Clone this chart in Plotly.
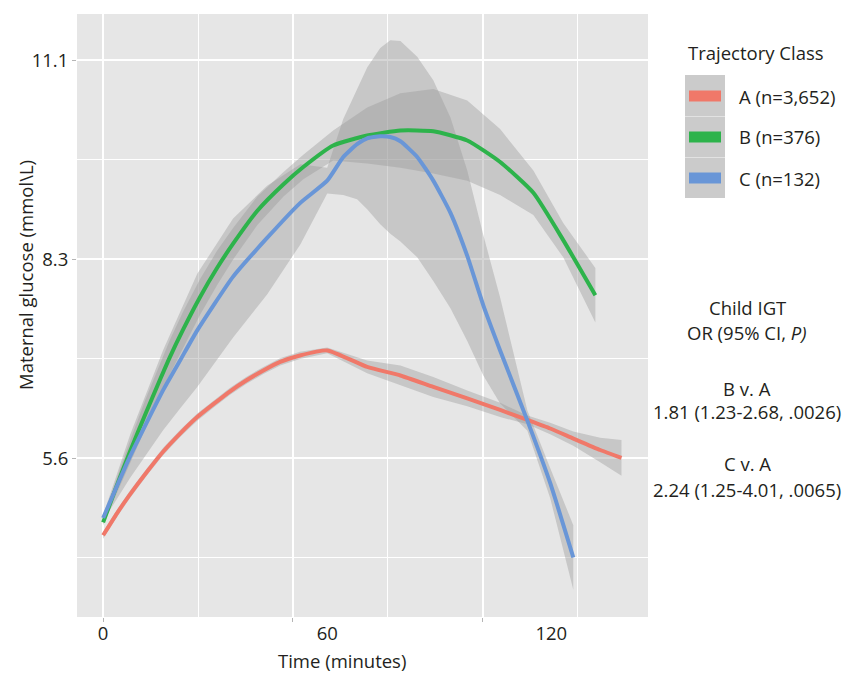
import plotly.graph_objects as go

# ---------------- data (time in minutes, glucose in mmol/L) ----------------
a_time = [0.0, 3.75, 7.2, 11.8, 16.1, 20.6, 25.2, 29.5, 34.0, 38.3, 42.9, 47.4, 52.7, 60.0,
          70.7, 79.6, 88.4, 97.5, 106.3, 113.6, 119.7, 125.9, 133.1, 138.8]
a_glucose = [4.48, 4.79, 5.05, 5.37, 5.65, 5.90, 6.13, 6.31, 6.49, 6.64, 6.78, 6.90, 6.99, 7.06,
             6.83, 6.71, 6.55, 6.39, 6.23, 6.09, 5.97, 5.83, 5.67, 5.56]
a_lower = [4.43, 4.74, 5.00, 5.32, 5.60, 5.85, 6.08, 6.26, 6.44, 6.59, 6.73, 6.85, 6.94, 7.02,
           6.74, 6.57, 6.41, 6.28, 6.13, 6.03, 5.89, 5.73, 5.50, 5.31]
a_upper = [4.53, 4.84, 5.10, 5.42, 5.70, 5.95, 6.18, 6.36, 6.54, 6.69, 6.83, 6.95, 7.04, 7.10,
           6.92, 6.85, 6.69, 6.50, 6.33, 6.15, 6.05, 5.93, 5.84, 5.81]

b_time = [0.0, 3.2, 7.2, 11.3, 15.3, 17.9, 21.4, 26.0, 30.5, 34.8, 41.3, 48.3, 53.6, 61.6,
          70.7, 79.6, 88.4, 97.5, 106.3, 115.2, 123.2, 131.8]
b_glucose = [4.66, 5.11, 5.65, 6.17, 6.66, 6.97, 7.35, 7.81, 8.21, 8.55, 9.01, 9.38, 9.62, 9.92,
             10.06, 10.13, 10.12, 9.99, 9.69, 9.26, 8.60, 7.83]
b_lower = [4.62, 5.01, 5.50, 5.97, 6.44, 6.73, 7.10, 7.56, 7.97, 8.33, 8.81, 9.21, 9.45, 9.71,
           9.67, 9.61, 9.53, 9.43, 9.23, 8.95, 8.36, 7.45]
b_upper = [4.70, 5.21, 5.80, 6.37, 6.88, 7.21, 7.60, 8.06, 8.45, 8.77, 9.21, 9.55, 9.79, 10.13,
           10.45, 10.65, 10.71, 10.55, 10.15, 9.57, 8.84, 8.21]

c_time = [0.0, 7.2, 16.1, 20.6, 25.2, 34.8, 43.9, 52.8, 60.0, 64.3, 68.0, 70.7, 74.2, 76.9,
          79.6, 84.1, 88.4, 93.0, 97.5, 101.8, 106.3, 113.6, 119.7, 125.9]
c_glucose = [4.72, 5.58, 6.51, 6.92, 7.34, 8.09, 8.63, 9.12, 9.43, 9.76, 9.94, 10.02, 10.05, 10.04,
             9.98, 9.76, 9.43, 8.98, 8.38, 7.69, 7.06, 6.08, 5.21, 4.17]
c_lower = [4.68, 5.28, 5.95, 6.25, 6.55, 7.24, 7.84, 8.54, 9.25, 9.23, 9.17, 9.03, 8.82, 8.69,
           8.58, 8.36, 8.03, 7.65, 7.19, 6.71, 6.32, 5.94, 5.00, 3.72]
c_upper = [4.76, 5.88, 7.07, 7.59, 8.13, 8.90, 9.36, 9.66, 9.61, 10.29, 10.71, 11.01, 11.28, 11.39,
           11.38, 11.16, 10.83, 10.31, 9.57, 8.67, 7.80, 6.22, 5.42, 4.62]

class_names = ["A (n=3,652)", "B (n=376)", "C (n=132)"]
class_colors = ["#F07869", "#2DB34B", "#6996D7"]

x_tick_values = [0, 60, 120]
x_tick_labels = ["0", "60", "120"]
x_grid_major = [0, 50.8, 101.6]
x_grid_minor = [25.4, 76.2, 127.0]

y_tick_values = [100 / 18, 150 / 18, 200 / 18]
y_tick_labels = ["5.6", "8.3", "11.1"]
y_grid_minor = [75 / 18, 125 / 18, 175 / 18]

or_lines = ["Child IGT", "OR (95% CI, <i>P)</i>", "B v. A", "1.81 (1.23-2.68, .0026)",
            "C v. A", "2.24 (1.25-4.01, .0065)"]

# ---------------- layout geometry ----------------
W, H = 849, 676
PL, PR, PT, PB = 77, 648, 14, 617
FONT = "Open Sans, Noto Sans, DejaVu Sans, sans-serif"
FS = 18.5
TXT = "#231F20"


def px_x(px):
    return (px - PL) / (PR - PL)


def px_y(py):
    return (PB - py) / (PB - PT)


series = [
    (a_time, a_glucose, a_lower, a_upper),
    (b_time, b_glucose, b_lower, b_upper),
    (c_time, c_glucose, c_lower, c_upper),
]

fig = go.Figure()

# confidence ribbons
for t, g, lo, hi in series:
    fig.add_trace(go.Scatter(
        x=list(t) + list(t)[::-1], y=list(hi) + list(lo)[::-1],
        mode="lines", fill="toself", fillcolor="rgba(153,153,153,0.4)",
        line=dict(width=0), hoverinfo="skip", showlegend=False, xaxis="x", yaxis="y"))

# fitted lines
for (t, g, lo, hi), name, col in zip(series, class_names, class_colors):
    fig.add_trace(go.Scatter(
        x=t, y=g, mode="lines", name=name,
        line=dict(color=col, width=4, shape="spline", smoothing=0.5),
        showlegend=False, xaxis="x2", yaxis="y"))

x_range = [-7.0, 145.9]
y_range = [3.339, 11.756]

annotations = [
    dict(text="Time (minutes)", x=px_x(342), y=px_y(675), xref="paper", yref="paper",
         showarrow=False, xanchor="center", yanchor="bottom", font=dict(size=FS, color=TXT)),
    dict(text="Maternal glucose (mmol\\L)", x=px_x(25), y=px_y(275), xref="paper", yref="paper",
         showarrow=False, textangle=-90, xanchor="center", yanchor="middle",
         font=dict(size=FS, color=TXT)),
    dict(text="Trajectory Class", x=px_x(686), y=px_y(52), xref="paper", yref="paper",
         showarrow=False, xanchor="left", yanchor="middle", font=dict(size=FS, color=TXT)),
]

or_y = [307, 333, 389, 411, 464, 489]
for txt, yy in zip(or_lines, or_y):
    annotations.append(dict(text=txt, x=px_x(747), y=px_y(yy), xref="paper", yref="paper",
                            showarrow=False, xanchor="center", yanchor="middle",
                            font=dict(size=FS, color=TXT)))

shapes = [dict(type="rect", xref="paper", yref="paper", x0=px_x(685), x1=px_x(725),
               y0=px_y(198), y1=px_y(75), fillcolor="#CBCBCB", line=dict(width=0))]
for sep in [116.5, 157.5]:
    shapes.append(dict(type="line", xref="paper", yref="paper", x0=px_x(685), x1=px_x(725),
                       y0=px_y(sep), y1=px_y(sep), line=dict(color="rgba(255,255,255,0.45)", width=1)))

key_y = [96, 137, 178]
for name, col, ky in zip(class_names, class_colors, key_y):
    shapes.append(dict(type="rect", xref="paper", yref="paper", x0=px_x(689), x1=px_x(721),
                       y0=px_y(ky + 5.5), y1=px_y(ky - 5.5), fillcolor=col, line=dict(width=0)))
    annotations.append(dict(text=name, x=px_x(737), y=px_y(ky), xref="paper", yref="paper",
                            showarrow=False, xanchor="left", yanchor="middle",
                            font=dict(size=FS, color=TXT)))

fig.update_layout(
    width=W, height=H,
    margin=dict(l=PL, r=W - PR, t=PT, b=H - PB, pad=0),
    paper_bgcolor="white", plot_bgcolor="#E6E6E6",
    font=dict(family=FONT, size=FS, color=TXT),
    showlegend=False,
    xaxis=dict(range=x_range, tickmode="array", tickvals=x_grid_major, showticklabels=False,
               ticks="outside", ticklen=4, tickcolor="#B5B5B5", tickwidth=1,
               showgrid=True, gridcolor="white", gridwidth=1.5, zeroline=False, showline=False,
               minor=dict(tickmode="array", tickvals=x_grid_minor, showgrid=True,
                          gridcolor="white", gridwidth=1.2, ticks="")),
    xaxis2=dict(range=x_range, overlaying="x", anchor="y", side="bottom", tickmode="array",
                tickvals=x_tick_values, ticktext=x_tick_labels, showgrid=False, zeroline=False,
                ticks="", showline=False, ticklabelstandoff=3,
                tickfont=dict(size=FS, color=TXT)),
    yaxis=dict(range=y_range, tickmode="array", tickvals=y_tick_values, ticktext=y_tick_labels,
               ticks="outside", ticklen=4, tickcolor="#B5B5B5", tickwidth=1,
               showgrid=True, gridcolor="white", gridwidth=1.5, zeroline=False, showline=False,
               tickfont=dict(size=FS, color=TXT),
               minor=dict(tickmode="array", tickvals=y_grid_minor, showgrid=True,
                          gridcolor="white", gridwidth=1.2, ticks="")),
    annotations=annotations,
    shapes=shapes,
)

fig.write_html("out.html", config={"displayModeBar": False},
               post_script="document.body.style.margin='0px';document.body.style.padding='0px';")
